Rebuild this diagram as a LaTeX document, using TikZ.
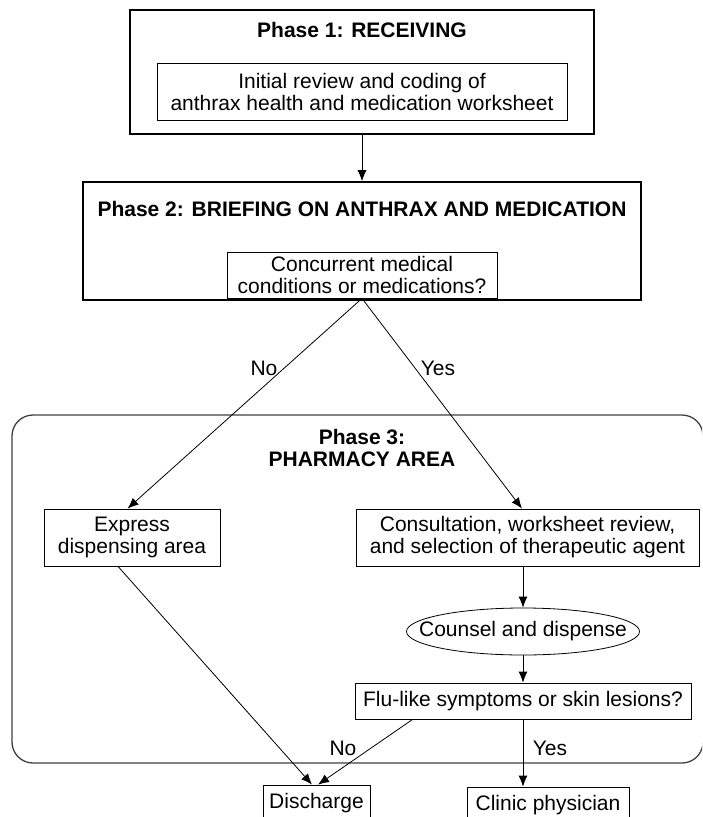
\documentclass[tikz,border=0pt]{standalone}
\usepackage{fontspec}
\setmainfont{Liberation Sans}
\usetikzlibrary{arrows.meta,shapes.geometric}

\begin{document}
\begin{tikzpicture}[x=1pt,y=-1pt,
		font=\fontsize{21}{22}\selectfont,
		box/.style={draw, line width=0.8pt, align=center, inner sep=0pt},
		phasebox/.style={draw, line width=1.6pt},
		title/.style={font=\fontsize{21}{22}\selectfont\bfseries, align=center},
		arr/.style={-{Latex[length=11pt,width=9pt]}, line width=0.8pt}]
				\clip (0,0) rectangle (702,817);
				% phase 1
				\node[phasebox, line width=2pt, minimum width=464, minimum height=124] (receiving) at (362,72) {};
				\node[title] (receivingtitle) at (362,30) {Phase 1: RECEIVING};
				\node[box, minimum width=410, minimum height=57] (review) at (362,91.5) {Initial review and coding of\\anthrax health and medication worksheet};
				
				% phase 2
				\node[phasebox, minimum width=558, minimum height=118] (briefing) at (362,241) {};
				\node[title] (briefingtitle) at (362,209) {Phase 2: BRIEFING ON ANTHRAX AND MEDICATION};
				\node[box, minimum width=270, minimum height=46] (concurrent) at (362,275) {Concurrent medical\\conditions or medications?};
				
				% phase 3
				\draw[phasebox, line width=1.3pt, black!75, rounded corners=21] (12,415) rectangle (703,763);
				\node[title] (pharmacytitle) at (362,448) {Phase 3:\\PHARMACY AREA};
				\node[box, minimum width=176, minimum height=57] (express) at (132,537.5) {Express\\dispensing area};
				\node[box, minimum width=343, minimum height=57] (consult) at (527.5,537.5) {Consultation, worksheet review,\\and selection of therapeutic agent};
				\node[box, ellipse, minimum width=233, minimum height=47, inner xsep=-22pt, inner ysep=0pt] (counsel) at (523,631.5) {Counsel and dispense};
				\node[box, minimum width=336, minimum height=36] (flu) at (523,701) {Flu-like symptoms or skin lesions?};
				
				% outcomes
				\node[box, minimum width=107, minimum height=36] (discharge) at (316.5,803) {Discharge};
				\node[box, minimum width=162, minimum height=36] (clinic) at (548,805) {Clinic physician};
				
				% arrows
				\draw[arr] (receiving.south) -- (briefing.north);
				\draw[arr] (concurrent.south) -- ([xshift=-4.5pt]express.north);
				\draw[arr] (concurrent.south) -- ([xshift=-5.5pt]consult.north);
				\node (no1) at (264,368) {No};
				\node (yes1) at (438,368) {Yes};
				\draw[arr] (counsel.north |- consult.south) -- (counsel.north);
				\draw[arr] (counsel.south) -- (counsel.south |- flu.north);
				\draw[arr] ([xshift=-14pt]express.south) -- ([xshift=-4.5pt]discharge.north);
				\draw[arr] ([xshift=58pt]flu.south west) -- ([xshift=1.5pt]discharge.north);
				\draw[arr] (flu.south) -- (flu.south |- clinic.north);
				\node (no2) at (343,748) {No};
				\node (yes2) at (550,748) {Yes};
\end{tikzpicture}
\end{document}
